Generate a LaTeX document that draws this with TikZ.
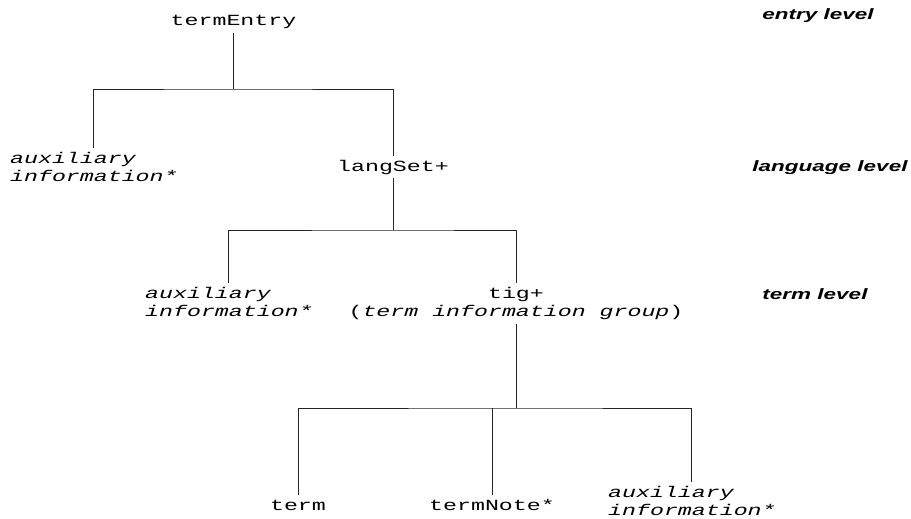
\documentclass[tikz,border=0pt]{standalone}
\usepackage{fontspec}
\usepackage{graphicx}
\newfontfamily\treemono{Liberation Mono}
\newfontfamily\levelsans{Liberation Sans}
\newcommand{\stretchx}[1]{\scalebox{1.5}[1]{#1}}
\tikzset{
  lab/.style={inner sep=2.5pt, font=\treemono\fontsize{15.5}{18}\selectfont},
  one/.style={lab, text height=12pt, text depth=4pt},
  lvl/.style={inner sep=0pt, anchor=base, font=\levelsans\bfseries\itshape\fontsize{15}{18}\selectfont},
  edge/.style={draw=black!85, line width=0.9pt},
}
\begin{document}
\begin{tikzpicture}[x=1pt, y=-1pt]
\useasboundingbox (0,0) rectangle (911,519);
% level labels
\node[lvl] (lv1) at (818,20) {\stretchx{entry level}};
\node[lvl] (lv2) at (830,171) {\stretchx{language level}};
\node[lvl] (lv3) at (815,299) {\stretchx{term level}};
% tree nodes
\node[one, anchor=base] (termEntry) at (233.5,26) {\stretchx{termEntry}};
\node[lab, anchor=base west] (aux1) at (7.5,163) {\stretchx{\begin{tabular}[t]{@{}l@{}}\itshape auxiliary\\ \itshape information*\end{tabular}}};
\node[one, anchor=base] (langSet) at (393,171) {\stretchx{langSet+}};
\node[lab, anchor=base west] (aux2) at (142.5,298) {\stretchx{\begin{tabular}[t]{@{}l@{}}\itshape auxiliary\\ \itshape information*\end{tabular}}};
\node[lab, anchor=base] (tig) at (516,298) {\stretchx{\begin{tabular}[t]{@{}c@{}}tig+\\ ({\itshape term information group})\end{tabular}}};
\node[one, anchor=base] (term) at (298,510) {\stretchx{term}};
\node[one, anchor=base] (termNote) at (492,510) {\stretchx{termNote*}};
\node[lab, anchor=base west] (aux3) at (605.5,497) {\stretchx{\begin{tabular}[t]{@{}l@{}}\itshape auxiliary\\ \itshape information*\end{tabular}}};
% junctions
\coordinate (y1) at (0,89);
\coordinate (y2) at (0,230);
\coordinate (y3) at (0,408);
\coordinate (j1) at (termEntry.south |- y1);
\coordinate (j2) at (langSet.south |- y2);
\coordinate (j3) at (tig.south |- y3);
% connectors
\draw[edge] (termEntry.south) -- (j1);
\draw[edge] (aux1.north) |- (j1) -| (langSet.north);
\draw[edge] (langSet.south) -- (j2);
\draw[edge] (aux2.north) |- (j2) -| (tig.north);
\draw[edge] (tig.south) -- (j3);
\draw[edge] (term.north) |- (j3) -| (aux3.north);
\draw[edge] (termNote.north) -- (termNote.north |- j3);
\end{tikzpicture}
\end{document}
